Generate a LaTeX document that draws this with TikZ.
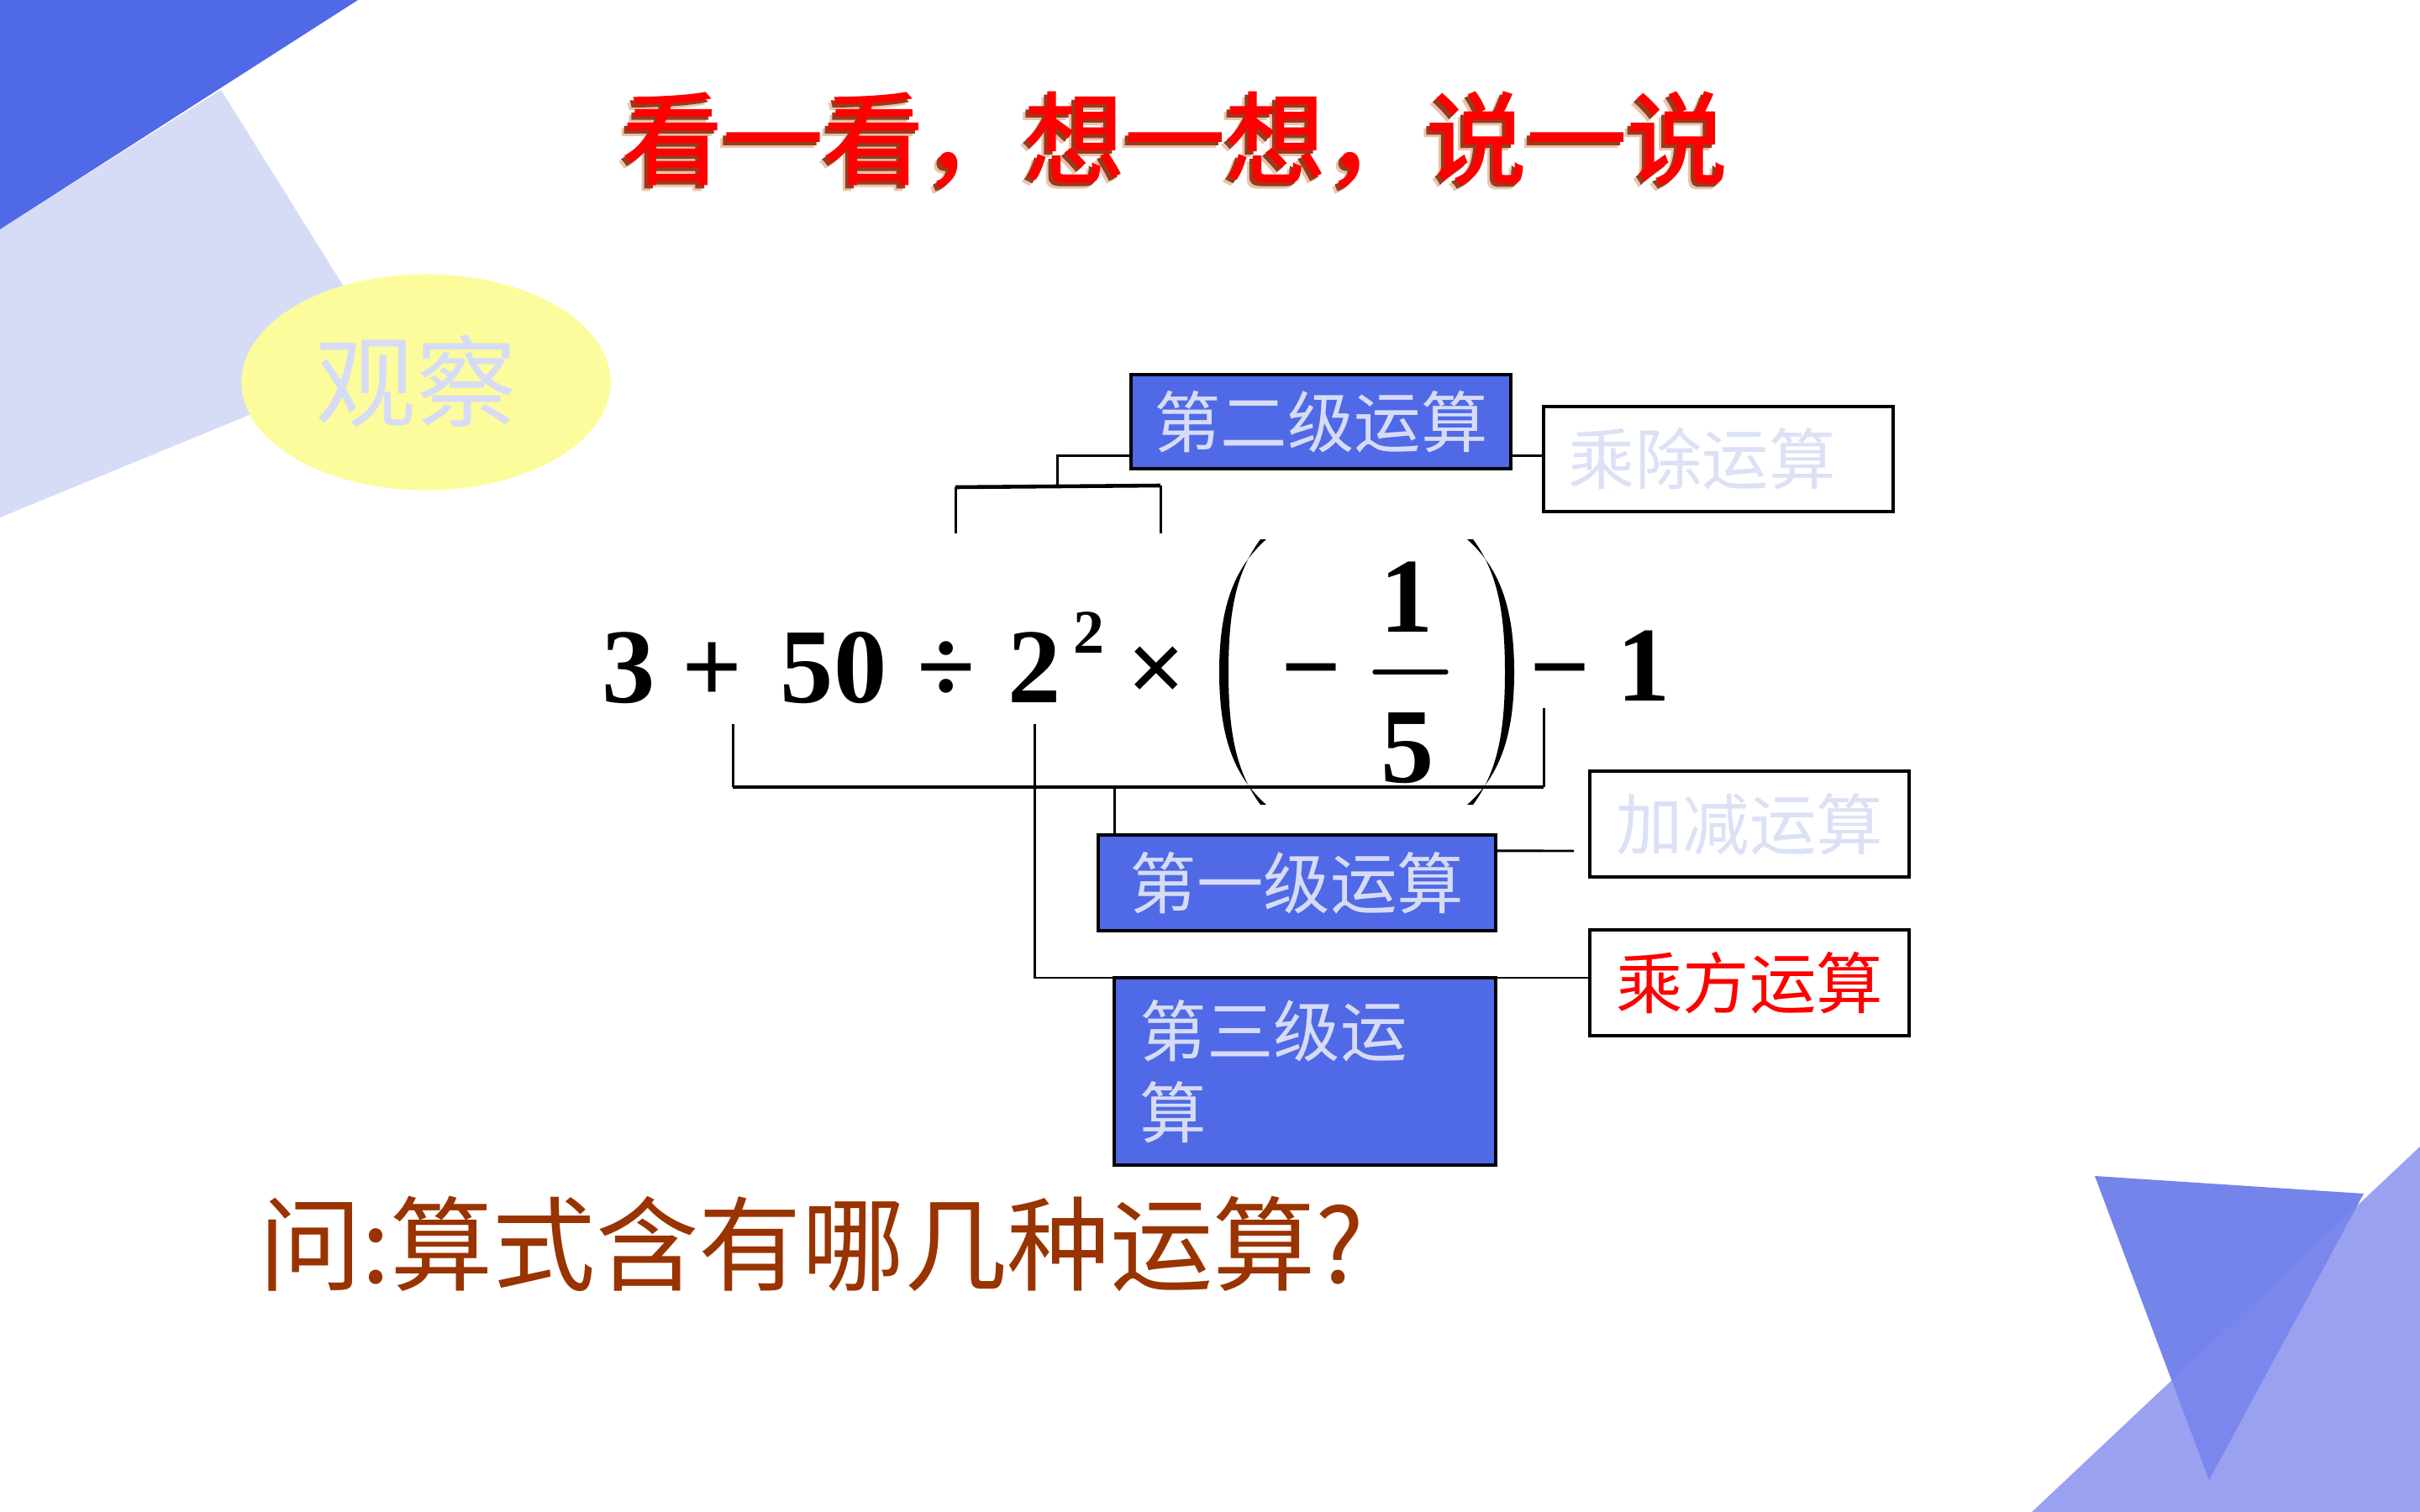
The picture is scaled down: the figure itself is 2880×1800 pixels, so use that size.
\documentclass[tikz,border=0pt]{standalone}
\usepackage{fontspec}
\usetikzlibrary{shapes.geometric}
\newfontfamily\cjk{Noto Sans CJK SC}
\newfontfamily\cjktitle[FakeBold=1.4]{Noto Sans CJK SC}
\newfontfamily\tnr{Liberation Serif}
\definecolor{dblue}{RGB}{80,105,230}
\definecolor{lav}{RGB}{214,220,246}
\definecolor{lavtext}{RGB}{220,225,246}
\definecolor{boxblue}{RGB}{80,105,230}
\definecolor{ellyel}{RGB}{252,252,156}
\definecolor{brownq}{RGB}{153,51,0}
\definecolor{tridark}{RGB}{116,132,234}
\definecolor{trilight}{RGB}{126,136,237}
\definecolor{tshadow}{RGB}{150,60,30}
\definecolor{tlight}{RGB}{235,195,170}
\begin{document}
\begin{tikzpicture}[x=0.01cm,y=-0.01cm,
  conn/.style={line width=0.85pt},
  connthick/.style={line width=1.3pt},
  boxfont/.style={font=\cjk\fontsize{22.6}{27.6}\selectfont},
  bluebox/.style={draw=black, line width=1.1pt, fill=boxblue, text=lav, boxfont, inner sep=0pt},
  whitebox/.style={draw=black, line width=1.1pt, fill=white, boxfont, inner sep=0pt},
  mathtxt/.style={font=\tnr\bfseries\fontsize{36}{40}\selectfont, inner sep=0pt, anchor=base},
  titlefont/.style={font=\cjktitle\fontsize{34}{40}\selectfont, inner sep=0pt}]
\fill[white] (0,0) rectangle (2880,1800);
\useasboundingbox (0,0) rectangle (2880,1800);
% background shapes
\fill[lav] (0,273) -- (263,107) -- (462,426) -- (0,616) -- cycle;
\fill[dblue] (0,0) -- (426,0) -- (0,273) -- cycle;
\fill[tridark] (2493,1400) -- (2813,1421) -- (2629,1762) -- cycle;
\fill[trilight, fill opacity=0.79] (2880,1365) -- (2880,1800) -- (2418,1800) -- cycle;
% observe ellipse
\node[ellipse, fill=ellyel, minimum width=4.39cm, minimum height=2.57cm, inner sep=0pt] (obs) at (507,455) {};
\node[font=\cjk\fontsize{34}{40}\selectfont, text=lav, inner sep=0pt] (obstext) at (495,454) {观察};
% title
\node[titlefont, text=tlight] (tsh2) at (1391,173) {看一看，想一想，说一说};
\node[titlefont, text=tshadow] (tsh1) at (1394,170) {看一看，想一想，说一说};
\node[titlefont, text=red] (title) at (1398,166) {看一看，想一想，说一说};
% expression
\node[mathtxt] (m3) at (748,836) {3};
\node[mathtxt] (mplus) at (848,836) {+};
\node[mathtxt] (m50) at (992,836) {50};
\node[mathtxt] (mdiv) at (1126,836) {÷};
\node[mathtxt] (m2) at (1231,836) {2};
\node[mathtxt, font=\tnr\bfseries\fontsize{21}{24}\selectfont] (msup) at (1296,777) {2};
\node[mathtxt, font=\tnr\bfseries\fontsize{35}{40}\selectfont] (mtimes) at (1377,836) {×};
\node[mathtxt] (mminus) at (1561,836) {−};
\node[mathtxt] (mnum) at (1674,752) {1};
\node[mathtxt] (mden) at (1675,931) {5};
\node[mathtxt] (mminus2) at (1857,836) {−};
\node[mathtxt] (mone) at (1956,834) {1};
\draw[line width=1.5pt, line cap=round] (1636,800) -- (1721,800);
% parentheses
\fill (1507,642) .. controls (1470,675) and (1451,720) .. (1451,800) .. controls (1451,880) and (1470,925) .. (1507,958) -- (1500,958) .. controls (1472,920) and (1462,875) .. (1462,800) .. controls (1462,725) and (1472,680) .. (1500,642) -- cycle;
\fill (1746,642) .. controls (1783,675) and (1802,720) .. (1802,800) .. controls (1802,880) and (1783,925) .. (1746,958) -- (1753,958) .. controls (1781,920) and (1791,875) .. (1791,800) .. controls (1791,725) and (1781,680) .. (1753,642) -- cycle;
% boxes
\node[bluebox, minimum width=4.52cm, minimum height=1.12cm] (b2) at (1572,502) {第二级运算};
\node[whitebox, text=lavtext, minimum width=4.16cm, minimum height=1.25cm, text width=3.56cm, align=left] (cc) at (2045,546.5) {乘除运算};
\node[whitebox, text=lavtext, minimum width=3.80cm, minimum height=1.26cm] (jj) at (2082,981) {加减运算};
\node[bluebox, minimum width=4.73cm, minimum height=1.14cm] (b1) at (1543.5,1051) {第一级运算};
\node[whitebox, text=red, minimum width=3.80cm, minimum height=1.26cm] (cf) at (2082,1170) {乘方运算};
\node[bluebox, minimum width=4.54cm, minimum height=2.23cm, text width=3.92cm, align=left] (b3) at (1553,1275.5) {第三级运\\算};
% connectors
\coordinate (ub1) at (1137,635);
\coordinate (ub2) at (1137,580);
\coordinate (ub3) at (1381,578);
\coordinate (ub4) at (1381,635);
\draw[conn] (ub1) -- (ub2);
\draw[conn] (ub3) -- (ub4);
\draw[connthick] (ub2) -- (ub3);
\coordinate (um) at (1258,579);
\coordinate (b2l) at ([yshift=0.17cm]b2.south west);
\draw[conn] (um) |- (b2l);
\coordinate (b2r) at ([yshift=0.17cm]b2.south east);
\draw[conn] (b2r) -- (b2r -| cc.west);
\coordinate (lb1) at (872,862);
\coordinate (lb2) at (872,937);
\coordinate (lb3) at (1837,937);
\coordinate (lb4) at (1837,843);
\draw[conn] (lb1) -- (lb2);
\draw[connthick] (lb2) -- (lb3);
\draw[conn] (lb3) -- (lb4);
\coordinate (lm) at (1326,937);
\draw[conn] (lm) -- (lm |- b1.north);
\coordinate (b1r) at ([yshift=0.38cm]b1.east);
\coordinate (b1end) at (1873,1013);
\draw[conn] (b1r) -- (b1end);
\coordinate (p2a) at (1231,862);
\coordinate (p2b) at (1231,1164);
\draw[conn] (p2a) -- (p2b) -- (p2b -| cf.west);
% question
\node[font=\cjk\fontsize{34.8}{40}\selectfont, text=brownq, inner sep=0pt] (q) at (966,1481) {问:算式含有哪几种运算?};
\end{tikzpicture}
\end{document}
